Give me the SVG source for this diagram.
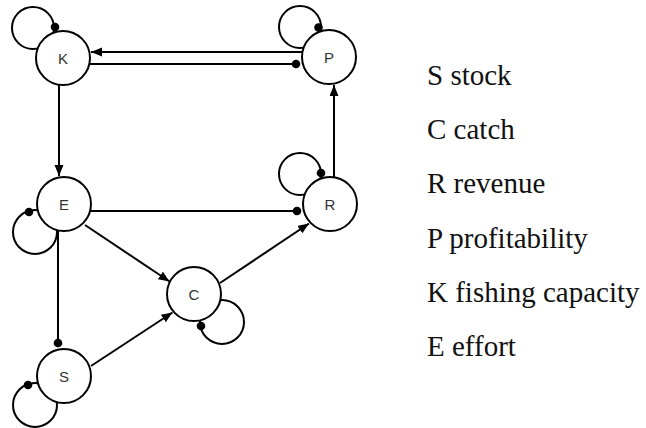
<svg xmlns="http://www.w3.org/2000/svg" width="646" height="428" viewBox="0 0 646 428">
<defs>
<marker id="arrow" markerUnits="userSpaceOnUse" markerWidth="12" markerHeight="10" refX="11" refY="4.5" orient="auto">
<path d="M0,0 L11,4.5 L0,9 z" fill="#000"/>
</marker>
<marker id="dot" markerUnits="userSpaceOnUse" markerWidth="10" markerHeight="10" refX="5" refY="5" orient="auto">
<circle cx="5" cy="5" r="4.3" fill="#000"/>
</marker>
</defs>
<style>
.edge{fill:none;stroke:#000;stroke-width:2}
.loop{fill:none;stroke:#000;stroke-width:2}
.node circle.body{fill:#fff;stroke:#000;stroke-width:2}
.node text{font-family:"Liberation Sans",Arial,sans-serif;font-size:15px;fill:#333;text-anchor:middle}
.ldot{fill:#000}
.legend text{font-family:"Liberation Serif","Times New Roman",serif;font-size:29px;fill:#111}
</style>
<g id="loops">
<circle class="loop" cx="33" cy="28" r="21"/>
<circle class="loop" cx="300" cy="27" r="21"/>
<circle class="loop" cx="300" cy="174" r="21"/>
<circle class="loop" cx="35" cy="232" r="22"/>
<circle class="loop" cx="222" cy="322" r="22"/>
<circle class="loop" cx="35" cy="405" r="22"/>
</g>
<g id="connectors">
<line class="edge" x1="302" y1="52" x2="91" y2="52" marker-end="url(#arrow)"/>
<line class="edge" x1="90" y1="64" x2="296" y2="64" marker-end="url(#dot)"/>
<line class="edge" x1="59" y1="85" x2="59" y2="176" marker-end="url(#arrow)"/>
<line class="edge" x1="90" y1="211" x2="297" y2="211" marker-end="url(#dot)"/>
<line class="edge" x1="58" y1="230" x2="58" y2="343" marker-end="url(#dot)"/>
<line class="edge" x1="85" y1="225" x2="169.5" y2="281.5" marker-end="url(#arrow)"/>
<line class="edge" x1="91" y1="366" x2="172.5" y2="312.5" marker-end="url(#arrow)"/>
<line class="edge" x1="220" y1="283" x2="309" y2="223.5" marker-end="url(#arrow)"/>
<line class="edge" x1="334" y1="178" x2="334" y2="85" marker-end="url(#arrow)"/>
</g>
<g id="node-K" class="node"><circle class="body" cx="63" cy="58" r="27"/><text x="63" y="63.5">K</text><circle class="ldot" cx="55" cy="27" r="4.3"/></g>
<g id="node-P" class="node"><circle class="body" cx="329" cy="57" r="27"/><text x="329" y="62.5">P</text><circle class="ldot" cx="318.5" cy="27.5" r="4.3"/></g>
<g id="node-E" class="node"><circle class="body" cx="64" cy="204" r="27"/><text x="64" y="209.5">E</text><circle class="ldot" cx="29" cy="212" r="4.3"/></g>
<g id="node-R" class="node"><circle class="body" cx="330" cy="204" r="27"/><text x="330" y="209.5">R</text><circle class="ldot" cx="321" cy="173" r="4.3"/></g>
<g id="node-C" class="node"><circle class="body" cx="194" cy="294" r="27"/><text x="194" y="299.5">C</text><circle class="ldot" cx="201" cy="326" r="4.3"/></g>
<g id="node-S" class="node"><circle class="body" cx="64" cy="376" r="27"/><text x="64" y="381.5">S</text><circle class="ldot" cx="28" cy="385" r="4.3"/></g>
<g id="legend" class="legend">
<text x="427" y="85">S stock</text>
<text x="427" y="139">C catch</text>
<text x="427" y="193">R revenue</text>
<text x="427" y="248">P profitability</text>
<text x="427" y="302">K fishing capacity</text>
<text x="427" y="356">E effort</text>
</g>
</svg>
